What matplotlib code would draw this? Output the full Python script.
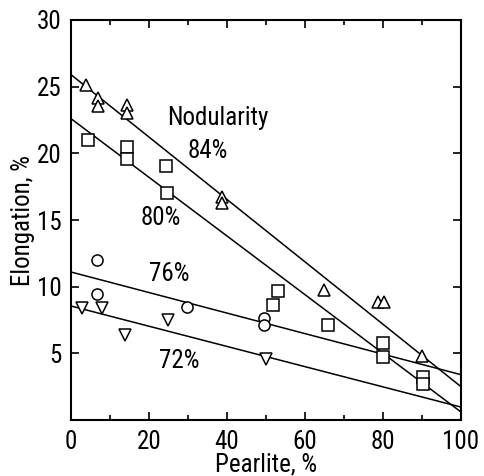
import matplotlib
matplotlib.use("Agg")
import matplotlib.pyplot as plt
from matplotlib.ticker import MultipleLocator

plt.rcParams['font.family'] = ['Roboto Condensed', 'Liberation Sans', 'DejaVu Sans']

# Data
x_84 = [3.9, 6.9, 6.9, 14.4, 14.4, 38.8, 38.8, 64.8, 78.7, 80.2, 90.0]
y_84 = [25.1, 24.15, 23.55, 23.6, 23.0, 16.7, 16.3, 9.75, 8.85, 8.85, 4.8]

x_80 = [4.4, 14.4, 14.4, 24.4, 24.7, 53.0, 51.9, 65.8, 80.0, 80.0, 90.2, 90.2]
y_80 = [21.0, 20.5, 19.6, 19.05, 17.0, 9.7, 8.6, 7.1, 5.8, 4.7, 3.2, 2.7]

x_76 = [6.7, 6.7, 29.8, 49.6, 49.6]
y_76 = [12.0, 9.45, 8.5, 7.65, 7.1]

x_72 = [2.8, 8.0, 13.9, 24.9, 49.9]
y_72 = [8.4, 8.4, 6.4, 7.5, 4.6]

# Fitted lines (endpoints at x = 0 and x = 100)
line_x = [0, 100]
line_84 = [25.9, 2.5]
line_80 = [22.6, 0.6]
line_76 = [11.1, 3.4]
line_72 = [8.55, 0.97]

labels = ["84%", "80%", "76%", "72%"]

fig = plt.figure(figsize=(4.84, 4.76), dpi=100)
ax = fig.add_axes([0.1467, 0.1176, 0.8058, 0.8404])

lc = 'black'
for ly in (line_84, line_80, line_76, line_72):
    ax.plot(line_x, ly, color=lc, lw=1.1, zorder=2)

mk = dict(linestyle='none', markerfacecolor='white', markeredgecolor='black',
          markeredgewidth=1.1, zorder=3)
ax.plot(x_84, y_84, marker='^', markersize=9, **mk)
ax.plot(x_80, y_80, marker='s', markersize=8.5, **mk)
ax.plot(x_76, y_76, marker='o', markersize=8, **mk)
ax.plot(x_72, y_72, marker='v', markersize=9, **mk)

fs = 18
ax.text(24.7, 22.65, "Nodularity", fontsize=fs, ha='left', va='center')
ax.text(35.0, 20.2, labels[0], fontsize=fs, ha='center', va='center')
ax.text(23.1, 15.15, labels[1], fontsize=fs, ha='center', va='center')
ax.text(25.2, 10.95, labels[2], fontsize=fs, ha='center', va='center')
ax.text(27.8, 4.4, labels[3], fontsize=fs, ha='center', va='center')

ax.set_xlim(0, 100)
ax.set_ylim(0, 30)
ax.xaxis.set_major_locator(MultipleLocator(20))
ax.xaxis.set_minor_locator(MultipleLocator(10))
ax.set_yticks([5, 10, 15, 20, 25, 30])
ax.tick_params(which='both', direction='in', top=True, right=True, labelsize=fs, width=1.2)
ax.tick_params(which='major', length=6, pad=7)
ax.tick_params(which='minor', length=3.5)
for s in ax.spines.values():
    s.set_linewidth(1.5)

ax.set_xlabel("Pearlite, %", fontsize=fs, labelpad=-1)
ax.set_ylabel("Elongation, %", fontsize=fs, labelpad=1)

fig.savefig("out.png", dpi=100)
